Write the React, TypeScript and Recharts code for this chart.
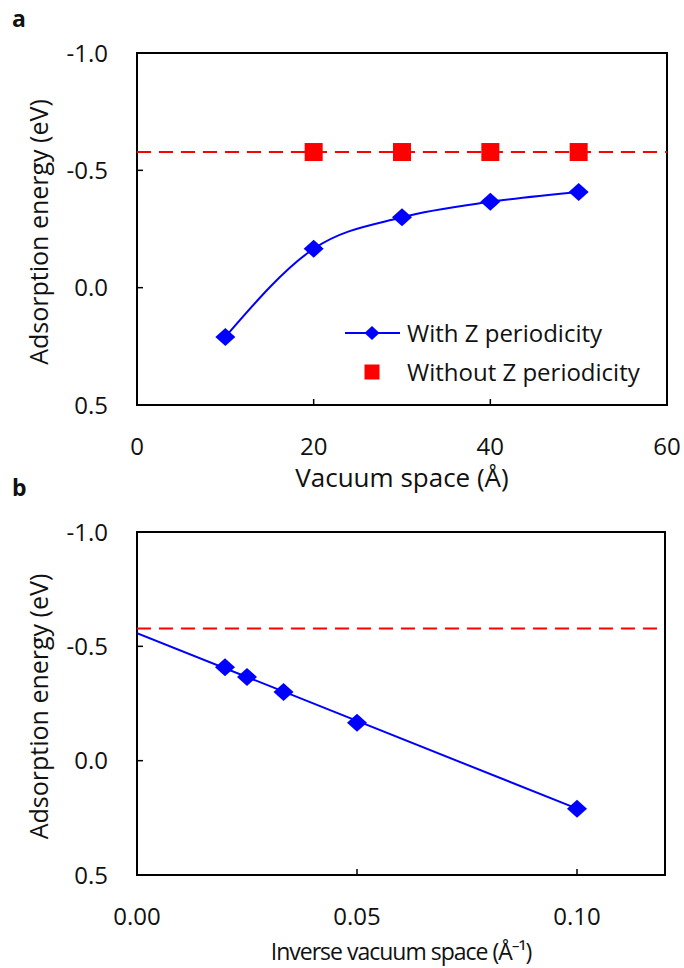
import React from 'react';
import {
  ComposedChart,
  Line,
  XAxis,
  YAxis,
  ReferenceLine,
  ReferenceArea,
  Legend,
  Label,
} from 'recharts';

// ---- Data ----
const vacuumSpace = [10, 20, 30, 40, 50];
const energyWithZ = [0.21, -0.166, -0.3, -0.366, -0.408];
const energyWithoutZ = [-0.578, -0.578, -0.578, -0.578];
const vacuumWithoutZ = [20, 30, 40, 50];
const inverseSpace = [0.02, 0.025, 0.0333, 0.05, 0.1];
const energyInverse = [-0.408, -0.366, -0.3, -0.166, 0.21];
const fitX = [0, 0.1];
const fitY = [-0.558, 0.21];
const limitEnergy = -0.578;

const yTicks = [-1, -0.5, 0, 0.5];
const yTickLabels = ['-1.0', '-0.5', '0.0', '0.5'];
const xTicksA = [0, 20, 40, 60];
const xTickLabelsA = ['0', '20', '40', '60'];
const xTicksB = [0, 0.05, 0.1];
const xTickLabelsB = ['0.00', '0.05', '0.10'];

const dataWithZ = vacuumSpace.map((x, i) => ({ x, y: energyWithZ[i] }));
const dataWithoutZ = vacuumWithoutZ.map((x, i) => ({ x, y: energyWithoutZ[i] }));
const dataInverse = inverseSpace.map((x, i) => ({ x, y: energyInverse[i] }));
const dataFit = fitX.map((x, i) => ({ x, y: fitY[i] }));

const FONT = '"Open Sans", "Noto Sans", sans-serif';
const TICK_FS = 24;
const BLUE = '#0000FF';
const RED = '#FF0000';
const TEXT = '#111';

const Diamond = (props: any) => {
  const { cx, cy } = props;
  if (cx == null || cy == null) return null;
  return (
    <polygon
      points={`${cx},${cy - 9} ${cx + 10},${cy} ${cx},${cy + 9} ${cx - 10},${cy}`}
      fill={BLUE}
    />
  );
};

const Square = (props: any) => {
  const { cx, cy } = props;
  if (cx == null || cy == null) return null;
  return <rect x={cx - 9} y={cy - 9} width={18} height={18} fill={RED} />;
};

const makeXTick = (vals: number[], labels: string[]) => (props: any) => {
  const { x, y, payload } = props;
  const idx = vals.findIndex((v) => Math.abs(v - payload.value) < 1e-9);
  return (
    <g>
      <line x1={x} x2={x} y1={y} y2={y - 6} stroke="#000" strokeWidth={1.5} />
      <text x={x} y={y + 41} dy="0.36em" textAnchor="middle" fontSize={TICK_FS} fontFamily={FONT} fill={TEXT}>
        {idx >= 0 ? labels[idx] : payload.value}
      </text>
    </g>
  );
};

const YTick = (props: any) => {
  const { x, y, payload } = props;
  const idx = yTicks.findIndex((v) => Math.abs(v - payload.value) < 1e-9);
  return (
    <g>
      <line x1={x} x2={x + 6} y1={y} y2={y} stroke="#000" strokeWidth={1.5} />
      <text x={x - 29} y={y} dy="0.36em" textAnchor="end" fontSize={TICK_FS} fontFamily={FONT} fill={TEXT}>
        {idx >= 0 ? yTickLabels[idx] : payload.value}
      </text>
    </g>
  );
};

const YTitle = (props: any) => {
  const { viewBox } = props;
  const cx = viewBox.x + 39;
  const cy = viewBox.y + viewBox.height / 2 + 3;
  return (
    <text
      x={cx}
      y={cy}
      transform={`rotate(-90 ${cx} ${cy})`}
      textAnchor="middle"
      dy="0.36em"
      fontSize={25}
      fontFamily={FONT}
      fill={TEXT}
    >
      Adsorption energy (eV)
    </text>
  );
};

const XTitle = (text: string, offset: number, fs: number, ls: number) => (props: any) => {
  const { viewBox } = props;
  const cx = viewBox.x + viewBox.width / 2;
  const cy = viewBox.y + offset;
  return (
    <text
      x={cx}
      y={cy}
      dy="0.36em"
      textAnchor="middle"
      fontSize={fs}
      letterSpacing={ls}
      fontFamily={FONT}
      fill={TEXT}
    >
      {text}
    </text>
  );
};

const LegendContent = () => (
  <div style={{ fontFamily: FONT, fontSize: 24, color: TEXT, lineHeight: '39px', whiteSpace: 'nowrap' }}>
    <div style={{ display: 'flex', alignItems: 'center', height: 39 }}>
      <svg width={62} height={20}>
        <line x1={5} x2={60} y1={10} y2={10} stroke={BLUE} strokeWidth={2} />
        <polygon points="32,3 39.5,10 32,17 24.5,10" fill={BLUE} />
      </svg>
      <span style={{ marginLeft: 5 }}>With Z periodicity</span>
    </div>
    <div style={{ display: 'flex', alignItems: 'center', height: 39 }}>
      <svg width={62} height={20}>
        <rect x={24.5} y={2.5} width={15} height={15} fill={RED} />
      </svg>
      <span style={{ marginLeft: 5 }}>Without Z periodicity</span>
    </div>
  </div>
);

const panelLetter = (letter: string, top: number) => (
  <div
    style={{
      position: 'absolute',
      left: 12,
      top,
      fontFamily: FONT,
      fontWeight: 700,
      fontSize: 23,
      color: TEXT,
      lineHeight: 1,
    }}
  >
    {letter}
  </div>
);

export default function App() {
  return (
    <div style={{ position: 'absolute', left: 0, top: 0, width: 684, height: 968, background: '#fff' }}>
      <div style={{ position: 'absolute', left: 0, top: 480 }}>
        <ComposedChart width={684} height={488} margin={{ top: 52, right: 19, left: 0, bottom: 0 }}>
          <XAxis
            type="number"
            dataKey="x"
            domain={[0, 0.12]}
            ticks={xTicksB}
            allowDataOverflow
            height={93}
            tickSize={0}
            tickMargin={0}
            tickLine={false}
            axisLine={false}
            tick={makeXTick(xTicksB, xTickLabelsB)}
          >
            <Label content={XTitle('Inverse vacuum space (Å⁻¹)', 77, 23, -1)} />
          </XAxis>
          <YAxis
            type="number"
            domain={[-1, 0.5]}
            reversed
            ticks={yTicks}
            allowDataOverflow
            width={137}
            tickSize={0}
            tickMargin={0}
            tickLine={false}
            axisLine={false}
            tick={YTick}
          >
            <Label content={YTitle} />
          </YAxis>
          <ReferenceArea x1={0} x2={0.12} y1={-1} y2={0.5} fill="none" stroke="#000" strokeWidth={2} ifOverflow="visible" />
          <ReferenceLine y={limitEnergy} stroke={RED} strokeWidth={2} strokeDasharray="14 8" />
          <Line
            data={dataFit}
            dataKey="y"
            type="linear"
            stroke={BLUE}
            strokeWidth={2}
            dot={false}
            activeDot={false}
            isAnimationActive={false}
          />
          <Line
            data={dataInverse}
            dataKey="y"
            stroke="none"
            dot={<Diamond />}
            activeDot={false}
            isAnimationActive={false}
          />
        </ComposedChart>
      </div>
      <div style={{ position: 'absolute', left: 0, top: 0 }}>
        <ComposedChart width={684} height={500} margin={{ top: 53, right: 17, left: 0, bottom: 0 }}>
          <XAxis
            type="number"
            dataKey="x"
            domain={[0, 60]}
            ticks={xTicksA}
            allowDataOverflow
            height={95}
            tickSize={0}
            tickMargin={0}
            tickLine={false}
            axisLine={false}
            tick={makeXTick(xTicksA, xTickLabelsA)}
          >
            <Label content={XTitle('Vacuum space (Å)', 73, 26, 0)} />
          </XAxis>
          <YAxis
            type="number"
            domain={[-1, 0.5]}
            reversed
            ticks={yTicks}
            allowDataOverflow
            width={137}
            tickSize={0}
            tickMargin={0}
            tickLine={false}
            axisLine={false}
            tick={YTick}
          >
            <Label content={YTitle} />
          </YAxis>
          <ReferenceArea x1={0} x2={60} y1={-1} y2={0.5} fill="none" stroke="#000" strokeWidth={2} ifOverflow="visible" />
          <ReferenceLine y={limitEnergy} stroke={RED} strokeWidth={2} strokeDasharray="14 8" />
          <Line
            data={dataWithZ}
            dataKey="y"
            type="monotone"
            stroke={BLUE}
            strokeWidth={2}
            dot={<Diamond />}
            activeDot={false}
            isAnimationActive={false}
            legendType="none"
          />
          <Line
            data={dataWithoutZ}
            dataKey="y"
            stroke="none"
            dot={<Square />}
            activeDot={false}
            isAnimationActive={false}
            legendType="none"
          />
          <Legend
            layout="horizontal"
            verticalAlign="middle"
            align="center"
            content={<LegendContent />}
            wrapperStyle={{ position: 'absolute', left: 340, top: 313, width: 330, height: 80 }}
          />
        </ComposedChart>
      </div>
      {panelLetter('a', 7)}
      {panelLetter('b', 476)}
    </div>
  );
}
